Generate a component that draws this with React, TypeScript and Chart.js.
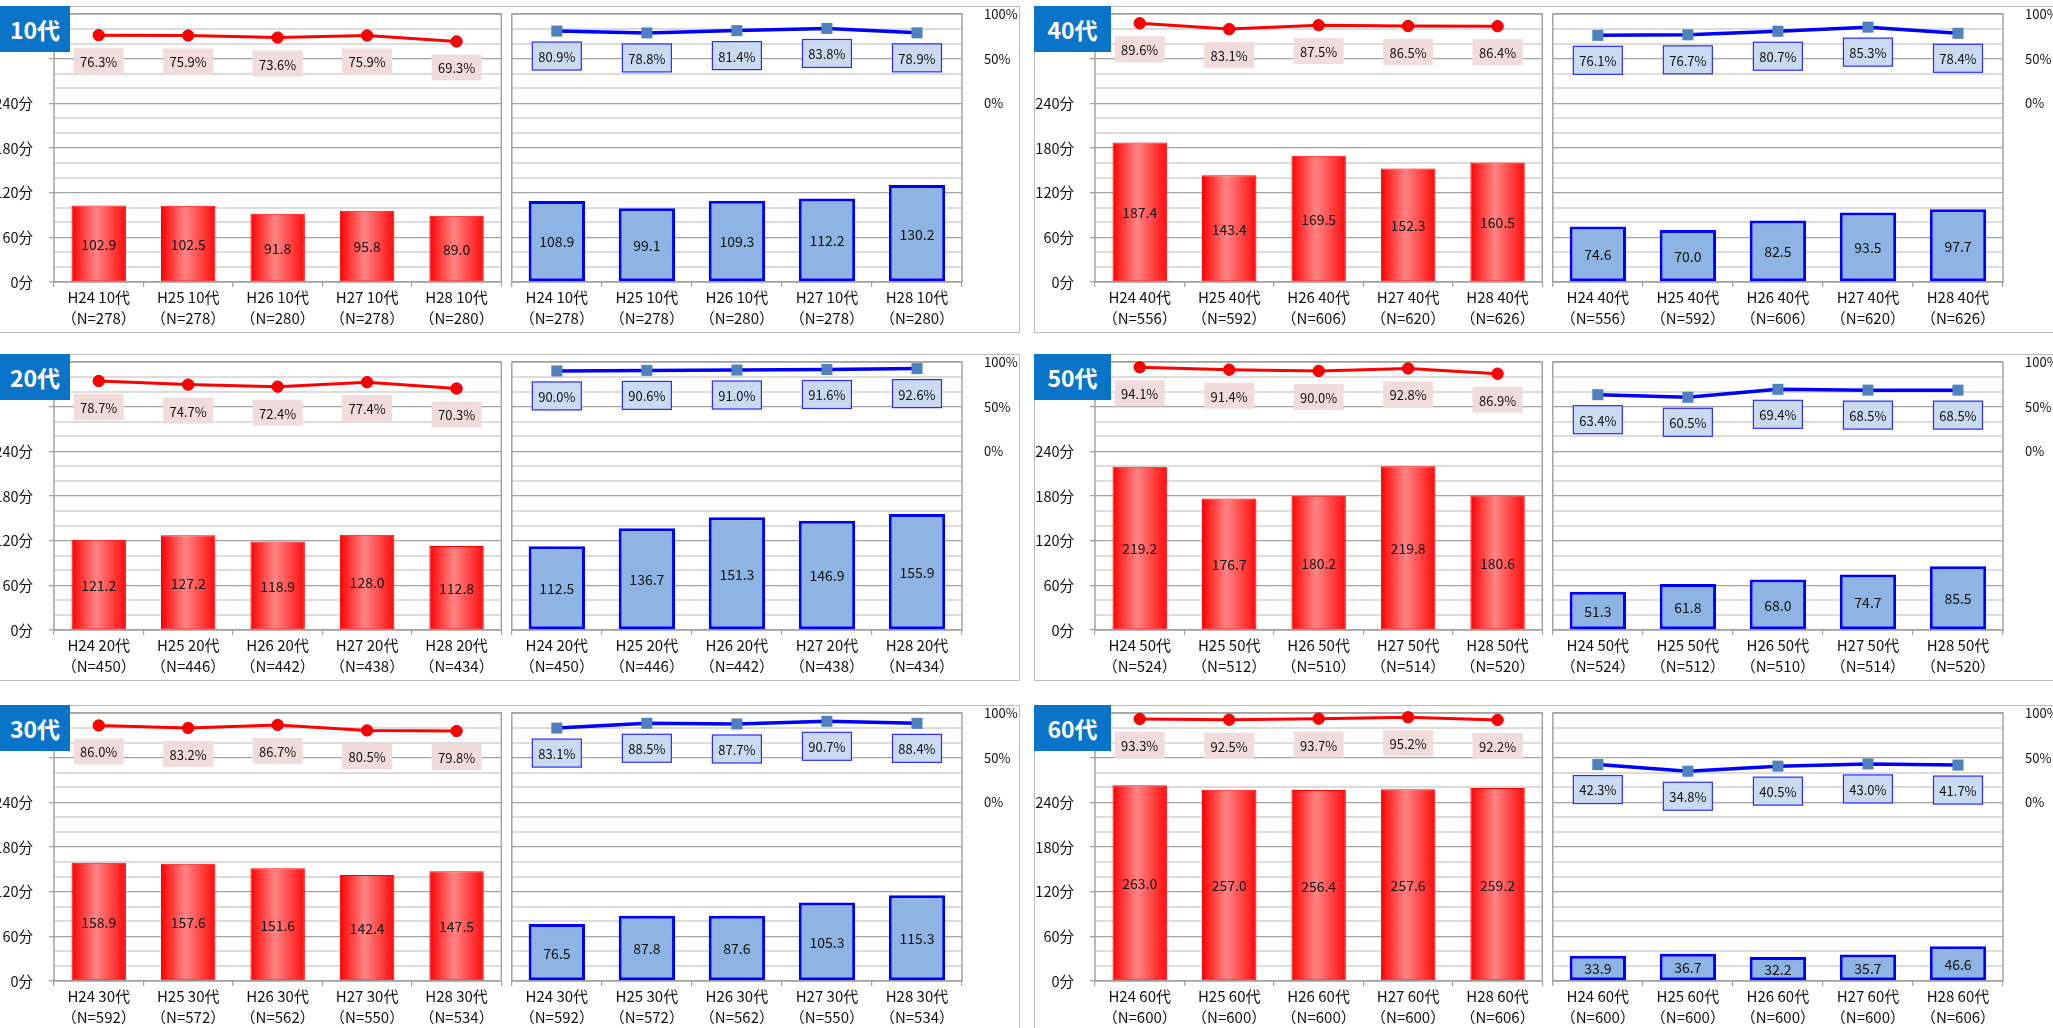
import React, { useEffect, useRef } from 'react';
import { Chart, registerables } from 'chart.js';

Chart.register(...registerables);

const FONT = '"Noto Sans CJK JP", "Noto Sans", sans-serif';

const ageGroups = ['10代', '20代', '30代', '40代', '50代', '60代'];
const years = ['H24', 'H25', 'H26', 'H27', 'H28'];

const sampleN = [
  [278, 278, 280, 278, 280],
  [450, 446, 442, 438, 434],
  [592, 572, 562, 550, 534],
  [556, 592, 606, 620, 626],
  [524, 512, 510, 514, 520],
  [600, 600, 600, 600, 606],
];

// left (red) sub-chart: minutes per day and share of users
const redMinutes = [
  [102.9, 102.5, 91.8, 95.8, 89.0],
  [121.2, 127.2, 118.9, 128.0, 112.8],
  [158.9, 157.6, 151.6, 142.4, 147.5],
  [187.4, 143.4, 169.5, 152.3, 160.5],
  [219.2, 176.7, 180.2, 219.8, 180.6],
  [263.0, 257.0, 256.4, 257.6, 259.2],
];
const redRate = [
  [76.3, 75.9, 73.6, 75.9, 69.3],
  [78.7, 74.7, 72.4, 77.4, 70.3],
  [86.0, 83.2, 86.7, 80.5, 79.8],
  [89.6, 83.1, 87.5, 86.5, 86.4],
  [94.1, 91.4, 90.0, 92.8, 86.9],
  [93.3, 92.5, 93.7, 95.2, 92.2],
];

// right (blue) sub-chart
const blueMinutes = [
  [108.9, 99.1, 109.3, 112.2, 130.2],
  [112.5, 136.7, 151.3, 146.9, 155.9],
  [76.5, 87.8, 87.6, 105.3, 115.3],
  [74.6, 70.0, 82.5, 93.5, 97.7],
  [51.3, 61.8, 68.0, 74.7, 85.5],
  [33.9, 36.7, 32.2, 35.7, 46.6],
];
const blueRate = [
  [80.9, 78.8, 81.4, 83.8, 78.9],
  [90.0, 90.6, 91.0, 91.6, 92.6],
  [83.1, 88.5, 87.7, 90.7, 88.4],
  [76.1, 76.7, 80.7, 85.3, 78.4],
  [63.4, 60.5, 69.4, 68.5, 68.5],
  [42.3, 34.8, 40.5, 43.0, 41.7],
];

const minuteTickLabels = [0, 60, 120, 180, 240];
const rateTickLabels = [0, 50, 100];

// layout of one panel (offsets from the panel's top-left corner)
const PANEL_W = 1027;
const PANEL_H = 327;
const SPLIT = 513;
const PLOT_TOP = 8;
const PLOT_H = 268;
const RED_AXIS_W = 61;
const BLUE_AXIS_W = 58;
const CANVAS_PAD = 4;

const panelLefts = [-7, 1034];
const panelTops = [6, 354, 705];

const plotFrame = {
  id: 'plotFrame',
  beforeDatasetsDraw(chart: any) {
    const { ctx, chartArea: a } = chart;
    ctx.save();
    ctx.strokeStyle = '#a3a3a3';
    ctx.lineWidth = 1.5;
    ctx.strokeRect(a.left, a.top, a.right - a.left, a.bottom - a.top);
    ctx.restore();
  },
};

function SubChart({ group, isRed, panelLeft, panelTop }: { group: number; isRed: boolean; panelLeft: number; panelTop: number }) {
  const ref = useRef<HTMLCanvasElement>(null);
  const canvasLeft = isRed ? panelLeft : panelLeft + SPLIT - 2;
  const canvasRight = isRed ? panelLeft + SPLIT + 2 : panelLeft + PANEL_W;
  const canvasTop = panelTop - CANVAS_PAD;
  const canvasW = canvasRight - canvasLeft;
  const canvasH = PANEL_H + CANVAS_PAD;
  const padTop = PLOT_TOP + CANVAS_PAD;
  const xAxisH = canvasH - padTop - PLOT_H;

  useEffect(() => {
    const labels = years.map((y, j) => [`${y} ${ageGroups[group]}`, `（N=${sampleN[group][j]}）`]);
    const minutes = isRed ? redMinutes[group] : blueMinutes[group];
    const rates = isRed ? redRate[group] : blueRate[group];
    const barPct = isRed ? 0.608 : 0.626;

    const valueLabels = {
      id: 'valueLabels',
      afterDatasetsDraw(chart: any) {
        const ctx = chart.ctx;
        ctx.save();
        chart.data.datasets.forEach((ds: any, i: number) => {
          const meta = chart.getDatasetMeta(i);
          meta.data.forEach((el: any, j: number) => {
            const v = ds.data[j] as number;
            if (meta.type === 'bar') {
              ctx.font = `14px ${FONT}`;
              ctx.fillStyle = '#111';
              ctx.textAlign = 'center';
              ctx.textBaseline = 'middle';
              ctx.fillText(v.toFixed(1), el.x, (el.y + el.base) / 2 + 1);
            } else {
              const text = `${v.toFixed(1)}%`;
              const bw = isRed ? 50 : 49;
              const bh = isRed ? 26 : 28;
              const cy = el.y + (isRed ? 26 : 25);
              ctx.fillStyle = isRed ? '#f2dcdb' : '#c9daf1';
              ctx.fillRect(el.x - bw / 2, cy - bh / 2, bw, bh);
              if (!isRed) {
                ctx.strokeStyle = '#2b2bff';
                ctx.lineWidth = 1.2;
                ctx.strokeRect(el.x - bw / 2, cy - bh / 2, bw, bh);
              }
              ctx.font = `13px ${FONT}`;
              ctx.fillStyle = '#111';
              ctx.textAlign = 'center';
              ctx.textBaseline = 'middle';
              ctx.fillText(text, el.x, cy + 1);
            }
          });
        });
        ctx.restore();
      },
    };

    const redFill = (c: any) => {
      const chart = c.chart;
      const xs = chart.scales && chart.scales.x;
      if (c.type !== 'data' || !xs || !chart.chartArea) return '#ff4040';
      const cx = xs.getPixelForValue(c.dataIndex);
      const w = (xs.width / labels.length) * barPct;
      const g = chart.ctx.createLinearGradient(cx - w / 2, 0, cx + w / 2, 0);
      g.addColorStop(0, '#ff0000');
      g.addColorStop(0.45, '#ff8585');
      g.addColorStop(1, '#ff0a0a');
      return g;
    };

    const chart = new Chart(ref.current as HTMLCanvasElement, {
      type: 'bar',
      data: {
        labels,
        datasets: [
          {
            type: 'line',
            data: rates,
            yAxisID: 'y1',
            order: 1,
            borderColor: isRed ? '#ff0000' : '#0000ff',
            borderWidth: isRed ? 3 : 3.5,
            tension: 0,
            clip: false,
            pointStyle: isRed ? 'circle' : 'rect',
            pointRadius: isRed ? 5.7 : 7.8,
            pointBackgroundColor: isRed ? '#ff0000' : '#4f81bd',
            pointBorderColor: isRed ? '#e00000' : '#4f81bd',
            pointBorderWidth: isRed ? 1 : 0,
          } as any,
          {
            type: 'bar',
            data: minutes,
            yAxisID: 'y',
            order: 2,
            categoryPercentage: 1,
            barPercentage: barPct,
            backgroundColor: isRed ? redFill : '#8db4e2',
            borderColor: isRed ? '#ff0000' : '#0000ff',
            borderWidth: isRed ? 1 : 3,
            borderSkipped: false,
          } as any,
        ],
      },
      options: {
        responsive: false,
        animation: false,
        devicePixelRatio: 1,
        layout: {
          padding: { top: padTop, bottom: 0, left: isRed ? 0 : 3, right: isRed ? 3 : 0 },
        },
        plugins: { legend: { display: false }, tooltip: { enabled: false } },
        scales: {
          x: {
            offset: true,
            grid: { display: true, offset: true, drawOnChartArea: false, drawTicks: true, tickLength: 5, color: '#a3a3a3', lineWidth: 1.2 },
            border: { display: false },
            ticks: {
              autoSkip: false,
              maxRotation: 0,
              minRotation: 0,
              padding: 0,
              color: '#111',
              font: { family: FONT, size: 15, lineHeight: 1.4 },
            },
            afterFit: (s: any) => {
              s.height = xAxisH;
              s.paddingLeft = 0;
              s.paddingRight = 0;
            },
          },
          y: {
            position: 'left',
            min: 0,
            max: 360,
            grid: {
              drawTicks: isRed,
              tickLength: 5,
              color: (c: any) => (c.tick && c.tick.value % 60 === 0 ? '#a3a3a3' : '#dcdcdc'),
              lineWidth: (c: any) => (c.tick && c.tick.value % 60 === 0 ? 1.3 : 2),
              tickColor: (c: any) => (c.tick && c.tick.value % 60 === 0 && c.tick.value <= 300 ? '#a3a3a3' : 'rgba(0,0,0,0)'),
              tickWidth: 1.3,
            },
            border: { display: false },
            ticks: {
              display: isRed,
              stepSize: 20,
              autoSkip: false,
              padding: 16,
              color: '#111',
              font: { family: FONT, size: 14.5 },
              callback: (v: any) => (minuteTickLabels.includes(Number(v)) ? `${v}分` : ''),
            },
            afterFit: (s: any) => {
              s.width = isRed ? RED_AXIS_W : 0;
              s.paddingTop = 0;
              s.paddingBottom = 0;
            },
          },
          y1: {
            position: 'right',
            display: !isRed,
            min: -200,
            max: 100,
            grid: { display: false },
            border: { display: false },
            ticks: {
              stepSize: 50,
              autoSkip: false,
              padding: 14,
              color: '#111',
              font: { family: FONT, size: 13 },
              callback: (v: any) => (rateTickLabels.includes(Number(v)) ? `${v}%` : ''),
            },
            afterFit: (s: any) => {
              s.width = isRed ? 0 : BLUE_AXIS_W;
              s.paddingTop = 0;
              s.paddingBottom = 0;
            },
          },
        },
      } as any,
      plugins: [plotFrame, valueLabels],
    });
    return () => chart.destroy();
  }, [group, isRed]);

  return (
    <canvas
      ref={ref}
      width={canvasW}
      height={canvasH}
      style={{ position: 'absolute', left: canvasLeft, top: canvasTop, width: canvasW, height: canvasH }}
    />
  );
}

function Panel({ group }: { group: number }) {
  const col = group < 3 ? 0 : 1;
  const row = group % 3;
  const left = panelLefts[col];
  const top = panelTops[row];
  return (
    <>
      <div
        style={{
          position: 'absolute',
          left,
          top,
          width: PANEL_W,
          height: PANEL_H,
          border: '1.5px solid #bdbdbd',
          boxSizing: 'border-box',
        }}
      />
      <SubChart group={group} isRed={true} panelLeft={left} panelTop={top} />
      <SubChart group={group} isRed={false} panelLeft={left} panelTop={top} />
      <div
        style={{
          position: 'absolute',
          left,
          top,
          width: 77,
          height: 46,
          background: '#0a74c8',
          color: '#fff',
          font: `bold 23px ${FONT}`,
          display: 'flex',
          alignItems: 'center',
          justifyContent: 'center',
          paddingLeft: col === 0 ? 7 : 0,
          boxSizing: 'border-box',
        }}
      >
        {ageGroups[group]}
      </div>
    </>
  );
}

export default function App() {
  return (
    <div
      style={{
        position: 'absolute',
        left: 0,
        top: 0,
        width: 2053,
        height: 1028,
        overflow: 'hidden',
        background: '#fff',
      }}
    >
      {ageGroups.map((_, i) => (
        <Panel key={i} group={i} />
      ))}
    </div>
  );
}
